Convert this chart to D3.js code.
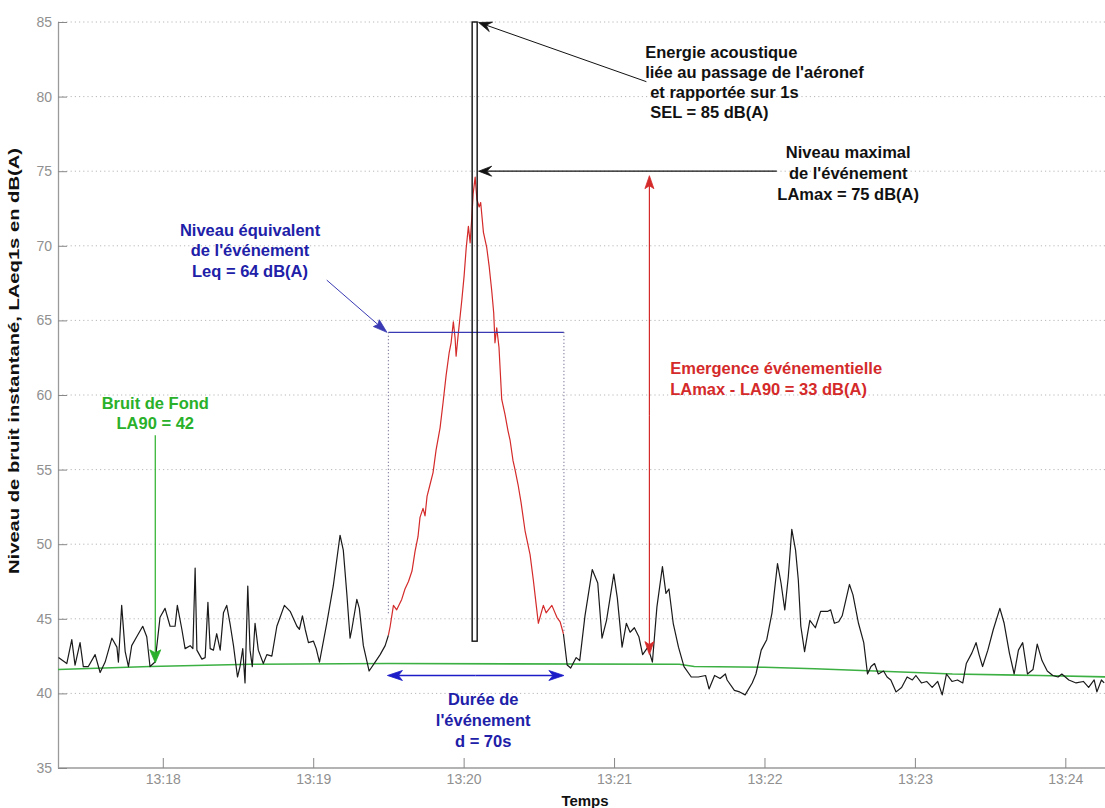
<!DOCTYPE html>
<html>
<head>
<meta charset="utf-8">
<script src="https://cdn.jsdelivr.net/npm/d3@7"></script>
<style>
  html, body { margin: 0; padding: 0; background: #fff; }
  svg { display: block; }
  text { font-family: "Liberation Sans", Arial, sans-serif; }
</style>
</head>
<body>
<svg id="chart" width="1105" height="808"></svg>
<script>
// ---- DATA ----
// time in seconds after 13:17:00, level in dB(A)
const timeSec = [
  18.4,21.7,23.7,25.0,27.0,28.3,30.3,33.0,35.0,37.0,39.7,41.7,42.3,43.6,45.0,46.3,47.6,49.6,52.0,53.6,
  54.9,56.9,58.9,60.9,62.9,64.9,65.8,67.6,68.9,70.9,72.0,72.9,73.6,75.6,76.9,78.0,78.9,80.2,81.5,82.9,
  84.2,85.5,86.8,88.2,89.8,90.8,91.9,92.8,93.9,94.8,95.7,96.8,98.1,100.1,101.5,103.5,105.5,106.8,108.5,110.8,
  113.5,114.5,115.7,116.8,118.1,120.1,121.2,122.5,125.4,128.0,130.7,132.0,133.4,134.7,135.4,137.4,138.4,140.0,142.3,144.7,
  146.7,148.7,150.0,150.7,152.0,153.3,155.3,156.6,158.0,159.4,160.6,161.8,162.6,163.8,164.6,165.4,166.6,167.8,169.0,170.6,
  171.8,173.0,174.2,175.0,175.9,176.6,177.0,177.8,179.3,180.2,181.0,181.9,182.6,183.3,183.8,184.6,185.3,186.2,186.8,187.9,
  189.2,190.2,191.2,192.0,192.5,193.2,194.1,195.2,196.5,197.7,198.5,199.7,200.5,201.7,202.9,204.5,206.5,207.8,208.9,209.8,
  211.8,212.9,213.8,215.2,217.2,218.5,219.8,221.3,222.7,224.9,226.3,228.4,231.3,233.5,235.2,237.0,239.9,241.3,243.2,244.9,
  246.4,248.1,249.9,251.4,253.5,255.3,257.1,259.3,260.7,261.9,263.6,265.7,267.9,270.8,273.6,276.5,277.9,280.1,282.3,284.4,
  285.1,288.0,290.1,292.3,295.1,296.6,298.7,300.9,303.0,305.2,306.6,308.1,309.5,310.9,312.4,313.5,314.5,316.0,317.0,318.1,
  320.3,322.4,325.3,326.4,327.9,329.6,331.0,333.9,335.3,337.5,339.6,341.1,342.5,343.9,345.4,347.5,348.9,350.4,352.5,354.7,
  356.9,359.0,360.4,362.6,364.7,366.9,369.1,370.9,372.6,374.8,377.0,379.1,380.5,382.7,384.4,385.6,387.0,389.1,391.3,393.9,
  395.6,397.7,399.6,401.3,403.0,404.9,407.1,408.8,410.7,412.8,415.0,417.1,418.6,421.4,424.3,427.2,429.3,431.5,432.6,434.4,
  435.5
];
const levelDb = [
  42.4,42.0,43.6,41.9,43.4,41.8,41.8,42.6,41.4,42.1,43.7,43.1,42.1,45.9,42.8,41.8,43.2,43.8,44.5,43.8,
  41.8,42.1,45.1,45.7,44.5,44.5,45.9,44.3,43.0,43.2,43.0,48.4,42.9,42.3,42.4,46.1,43.0,42.9,44.0,42.9,
  45.4,45.9,44.7,43.2,41.1,41.8,43.0,40.7,47.2,42.9,41.8,44.7,42.9,42.0,42.6,42.5,44.5,45.1,45.9,45.5,
  44.5,44.3,45.2,44.3,43.4,43.5,43.0,42.1,44.7,47.2,50.6,49.6,46.7,43.7,44.3,46.3,45.7,43.2,41.5,42.1,
  42.6,43.2,43.9,44.5,45.9,45.6,46.3,47.0,47.5,48.2,49.5,50.5,51.8,52.4,51.9,53.2,54.0,54.8,56.3,57.8,
  59.5,61.3,62.8,63.5,64.9,63.8,62.6,64.0,66.4,68.0,69.8,71.3,70.2,72.0,73.5,74.6,73.1,72.6,72.9,70.9,
  69.9,68.6,67.0,65.5,63.5,64.5,63.2,59.7,58.7,57.6,57.0,55.6,55.0,54.0,52.8,50.9,49.3,47.6,46.0,44.7,
  45.9,45.4,45.6,45.9,45.1,44.8,44.0,41.9,41.7,42.4,42.2,45.2,48.3,47.4,43.7,44.9,48.0,46.4,43.1,44.7,
  44.1,44.4,43.8,42.6,43.1,42.1,45.8,48.5,46.7,47.0,44.7,43.1,41.8,41.1,41.1,41.2,40.3,41.2,41.0,41.3,
  40.9,40.2,40.1,39.9,40.7,41.3,42.9,43.6,45.4,48.7,47.4,45.6,47.8,51.0,49.6,47.6,44.5,42.8,43.8,44.9,
  44.4,45.5,45.5,45.6,44.7,44.8,45.2,47.3,46.6,44.7,43.4,41.3,41.8,42.0,41.3,41.5,41.1,40.9,40.1,40.4,
  41.1,40.9,41.2,40.7,40.8,40.4,40.8,39.9,41.3,40.8,40.9,40.7,42.0,42.7,43.4,42.6,41.8,42.9,44.3,45.7,
  44.7,42.7,41.3,42.9,43.4,41.3,41.6,43.3,42.2,41.5,41.2,41.1,41.3,40.9,40.7,40.8,40.4,40.9,40.1,40.9,
  40.7
];
// background noise LA90 (running)
const la90Time = [18, 55, 95, 150, 266, 272, 300, 320, 360, 375, 410, 437];
const la90Db   = [41.6, 41.8, 41.95, 42.0, 41.95, 41.8, 41.75, 41.65, 41.4, 41.3, 41.2, 41.1];

// event values
const eventStart = 150, eventEnd = 220;      // s
const leqValue = 64.2, laMax = 75, selValue = 85, la90Value = 42;
const selStart = 183.4, selEnd = 185.4, selBase = 43.5;

const xTickSec = [60, 120, 180, 240, 300, 360, 420];
const xTickLabels = ["13:18", "13:19", "13:20", "13:21", "13:22", "13:23", "13:24"];
const yTicks = [35, 40, 45, 50, 55, 60, 65, 70, 75, 80, 85];

// ---- CHART ----
const svg = d3.select("#chart");
const mLeft = 58, mBottom = 768, mTop = 22;
const x = d3.scaleLinear().domain([18.2, 436.6]).range([mLeft, mLeft + (436.6 - 18.2) * 2.507]);
const y = d3.scaleLinear().domain([35, 85]).range([mBottom, mTop]);

svg.append("defs").append("clipPath").attr("id", "plotclip")
  .append("rect").attr("x", mLeft).attr("y", 0).attr("width", 1105 - mLeft).attr("height", mBottom);

// grid lines
svg.append("g").selectAll("line").data(yTicks.filter(d => d > 35)).join("line")
  .attr("x1", mLeft).attr("x2", 1105)
  .attr("y1", d => y(d)).attr("y2", d => y(d))
  .attr("stroke", "#b8b8b8").attr("stroke-width", 1).attr("stroke-dasharray", "1.2,3");

// axes
const axisColor = "#9a9a9a";
const xAxis = svg.append("g").attr("transform", `translate(0,${mBottom})`)
  .call(d3.axisBottom(x).tickValues(xTickSec).tickFormat((d, i) => xTickLabels[i])
        .tickSizeInner(-10).tickSizeOuter(0).tickPadding(6));
const yAxis = svg.append("g").attr("transform", `translate(${mLeft},0)`)
  .call(d3.axisLeft(y).tickValues(yTicks).tickSizeInner(-9).tickSizeOuter(0).tickPadding(6));
[xAxis, yAxis].forEach(g => {
  g.select(".domain").attr("stroke", axisColor).attr("stroke-width", 1.3);
  g.selectAll(".tick line").attr("stroke", "#888").attr("stroke-width", 1);
  g.selectAll(".tick text").attr("fill", "#909090").attr("font-size", 14)
    .attr("font-family", "'Liberation Sans', Arial, sans-serif");
});
xAxis.select(".domain").attr("d", `M${mLeft},0H1105`);

// axis titles
svg.append("text").attr("x", 585).attr("y", 806).attr("text-anchor", "middle")
  .attr("font-weight", "bold").attr("font-size", 15).attr("fill", "#111").text("Temps");
svg.append("text").attr("transform", "translate(19,361) rotate(-90)").attr("text-anchor", "middle")
  .attr("font-weight", "bold").attr("font-size", 15).attr("fill", "#111")
  .attr("textLength", 426).attr("lengthAdjust", "spacingAndGlyphs")
  .text("Niveau de bruit instantané, LAeq1s en dB(A)");

const plot = svg.append("g").attr("clip-path", "url(#plotclip)");

// LA90 line
const la90Pts = la90Time.map((t, i) => [t, la90Db[i]]);
plot.append("path").datum(la90Pts)
  .attr("d", d3.line().x(d => x(d[0])).y(d => y(d[1])))
  .attr("fill", "none").attr("stroke", "#3cb043").attr("stroke-width", 1.6);

// series split: background (black) and event (red)
const pts = timeSec.map((t, i) => [t, levelDb[i]]);
const lineGen = d3.line().x(d => x(d[0])).y(d => y(d[1]));
const before = pts.filter(d => d[0] <= eventStart);
const during = pts.filter(d => d[0] >= eventStart && d[0] <= eventEnd - 0.2);
const after = pts.filter(d => d[0] >= eventEnd - 0.2);
[before, after].forEach(seg => plot.append("path").datum(seg).attr("d", lineGen)
  .attr("fill", "none").attr("stroke", "#1a1a1a").attr("stroke-width", 1.2).attr("stroke-linejoin", "round"));
plot.append("path").datum(during).attr("d", lineGen)
  .attr("fill", "none").attr("stroke", "#d42a2a").attr("stroke-width", 1.2).attr("stroke-linejoin", "round");

// arrow helper
function arrow(g, x1, y1, x2, y2, color, opts = {}) {
  const L = opts.len || 12, W = opts.w || 4.5, notch = opts.notch || 2, sw = opts.sw || 1.2;
  const dx = x2 - x1, dy = y2 - y1, d = Math.hypot(dx, dy);
  const ux = dx / d, uy = dy / d, nx = -uy, ny = ux;
  const bx = x2 - ux * L, by = y2 - uy * L;
  const mx = x2 - ux * (L - notch), my = y2 - uy * (L - notch);
  g.append("line").attr("x1", x1).attr("y1", y1).attr("x2", mx).attr("y2", my)
    .attr("stroke", color).attr("stroke-width", sw);
  g.append("path")
    .attr("d", `M${x2},${y2}L${bx + nx * W},${by + ny * W}L${mx},${my}L${bx - nx * W},${by - ny * W}Z`)
    .attr("fill", color).attr("stroke", color).attr("stroke-width", 0.8).attr("stroke-linejoin", "miter");
}
function doubleArrow(g, x1, y1, x2, y2, color, opts = {}) {
  const mx = (x1 + x2) / 2, my = (y1 + y2) / 2;
  arrow(g, mx, my, x2, y2, color, opts);
  arrow(g, mx, my, x1, y1, color, opts);
}
function label(lines, tx, ty, anchor, color, lh, dxs) {
  const t = svg.append("text").attr("text-anchor", anchor).attr("font-weight", "bold")
    .attr("font-size", 16.5).attr("fill", color);
  lines.forEach((s, i) => t.append("tspan").attr("x", tx + (dxs ? dxs[i] : 0))
    .attr("y", ty + i * lh).attr("dy", "0.36em").text(s));
}

const ann = svg.append("g");
const blue = "#2020a8", blueLine = "#3a3ab4", red = "#d42a2a", green = "#2ab02a";

// Leq horizontal line and dotted event bounds
ann.append("line").attr("x1", x(eventStart)).attr("x2", x(eventEnd))
  .attr("y1", y(leqValue)).attr("y2", y(leqValue)).attr("stroke", blueLine).attr("stroke-width", 1.2);
[[eventStart, 45.3], [eventEnd, 44.1]].forEach(([t, lo]) =>
  ann.append("line").attr("x1", x(t)).attr("x2", x(t)).attr("y1", y(leqValue)).attr("y2", y(lo))
    .attr("stroke", "#6a6a90").attr("stroke-width", 1.2).attr("stroke-dasharray", "1,2.5"));

// SEL bar
ann.append("rect").attr("x", x(selStart)).attr("y", y(selValue))
  .attr("width", x(selEnd) - x(selStart)).attr("height", y(selBase) - y(selValue))
  .attr("fill", "none").attr("stroke", "#111").attr("stroke-width", 1.4);

// SEL arrow
arrow(ann, x(252.9), y(81.0), x(selEnd) + 1.5, y(selValue) + 0.5, "#111", {len: 13, w: 5, notch: 5, sw: 1});
// LAmax arrow
arrow(ann, x(304.9), y(laMax), x(selEnd) + 1.5, y(laMax), "#111", {len: 13, w: 5, notch: 5, sw: 1.2});
// Emergence double arrow
doubleArrow(ann, x(254.1), y(la90Value + 0.6), x(254.1), y(laMax - 0.3), red, {len: 13, w: 4.5, notch: 3, sw: 1.2});
// Leq arrow
arrow(ann, x(125.4), y(67.7), x(149.4), y(leqValue), blueLine, {len: 14, w: 4.5, notch: 2, sw: 1});
// duration arrow
doubleArrow(ann, x(eventStart - 0.4), y(41.2), x(eventEnd), y(41.2), "#1c1cc8", {len: 15, w: 5, notch: 4, sw: 1.6});
// green arrow
arrow(ann, x(57), y(57.3), x(57), y(la90Value + 0.05), green, {len: 13, w: 5.5, notch: 3, sw: 1.2});

// texts
label(["Energie acoustique", "liée au passage de l'aéronef", "et rapportée sur 1s", "SEL = 85 dB(A)"],
      x(252.4), y(83.0), "start", "#111", 20.2, [0, 0, 5, 5]);
label(["Niveau maximal", "de l'événement", "LAmax = 75 dB(A)"], x(333.4), y(76.3), "middle", "#111", 21);
label(["Niveau équivalent", "de l'événement", "Leq = 64 dB(A)"], x(94.8), y(71.06), "middle", blue, 20.4);
label(["Bruit de Fond", "LA90 = 42"], x(57), y(59.48), "middle", green, 20.5);
label(["Emergence événementielle", "LAmax - LA90 = 33 dB(A)"], x(262.4), y(61.8), "start", red, 21);
label(["Durée de", "l'événement", "d = 70s"], x(187.8), y(39.63), "middle", blue, 21);
</script>
</body>
</html>
